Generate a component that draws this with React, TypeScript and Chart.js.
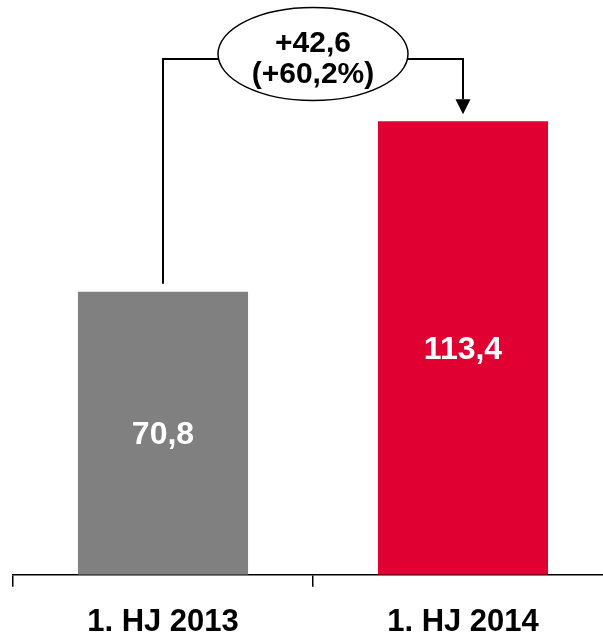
import React, { useEffect, useRef } from "react";
import { Chart, registerables } from "chart.js";

Chart.register(...registerables);

const categories = ["1. HJ 2013", "1. HJ 2014"];
const values = [70.8, 113.4];
const valueLabels = ["70,8", "113,4"];
const deltaLabels = ["+42,6", "(+60,2%)"];
const barColors = ["#808080", "#E10032"];
const bracketLevel = 129; // level of the connector line, in data units
const yMax = 140;

const FONT = "'Liberation Sans', Arial, Helvetica, sans-serif";

const annotationPlugin = {
  id: "deltaAnnotation",
  afterDatasetsDraw(chart: any) {
    const ctx: CanvasRenderingContext2D = chart.ctx;
    const meta = chart.getDatasetMeta(0);
    const yScale = chart.scales.y;

    // value labels inside bars
    meta.data.forEach((bar: any, i: number) => {
      const p = bar.getProps(["x", "y", "base"], true);
      ctx.save();
      ctx.fillStyle = "#ffffff";
      ctx.font = `bold 32px ${FONT}`;
      ctx.textAlign = "center";
      ctx.textBaseline = "middle";
      ctx.fillText(valueLabels[i], p.x, (p.y + p.base) / 2 + 2);
      ctx.restore();
    });

    const b0 = meta.data[0].getProps(["x", "y"], true);
    const b1 = meta.data[1].getProps(["x", "y"], true);
    const ly = yScale.getPixelForValue(bracketLevel);

    ctx.save();
    ctx.strokeStyle = "#000";
    ctx.lineWidth = 2;
    ctx.beginPath();
    ctx.moveTo(b0.x, b0.y - 8);
    ctx.lineTo(b0.x, ly);
    ctx.lineTo(b1.x, ly);
    ctx.lineTo(b1.x, b1.y - 22);
    ctx.stroke();

    // arrow head
    ctx.fillStyle = "#000";
    ctx.beginPath();
    ctx.moveTo(b1.x - 7.5, b1.y - 22);
    ctx.lineTo(b1.x + 7.5, b1.y - 22);
    ctx.lineTo(b1.x, b1.y - 7);
    ctx.closePath();
    ctx.fill();

    // ellipse
    const cx = (b0.x + b1.x) / 2;
    ctx.beginPath();
    ctx.ellipse(cx, ly - 5, 95, 46.5, 0, 0, Math.PI * 2);
    ctx.fillStyle = "#fff";
    ctx.fill();
    ctx.lineWidth = 1.5;
    ctx.stroke();

    ctx.fillStyle = "#000";
    ctx.font = `bold 30px ${FONT}`;
    ctx.textAlign = "center";
    ctx.textBaseline = "middle";
    ctx.fillText(deltaLabels[0], cx, ly - 15);
    ctx.fillText(deltaLabels[1], cx, ly + 16);
    ctx.restore();
  },
};

export default function App() {
  const ref = useRef<HTMLCanvasElement | null>(null);

  useEffect(() => {
    document.body.style.margin = "0";
    if (!ref.current) return;
    const chart = new Chart(ref.current, {
      type: "bar",
      data: {
        labels: categories,
        datasets: [
          {
            data: values,
            backgroundColor: barColors,
            borderWidth: 0,
            barPercentage: 0.567,
            categoryPercentage: 1,
          },
        ],
      },
      options: {
        responsive: false,
        animation: false,
        devicePixelRatio: 1,
        layout: { padding: { left: 13, right: 10, top: 15, bottom: 19 } },
        plugins: {
          legend: { display: false },
          tooltip: { enabled: false },
        },
        scales: {
          x: {
            grid: {
              offset: true,
              drawOnChartArea: false,
              drawTicks: true,
              tickLength: 12,
              color: "#000",
              lineWidth: 1.5,
            },
            border: { display: true, color: "#000", width: 1.5 },
            ticks: {
              color: "#000",
              padding: 17,
              font: { family: FONT, size: 31, weight: "bold" },
            },
          },
          y: { display: false, min: 0, max: yMax },
        },
      },
      plugins: [annotationPlugin],
    });
    return () => chart.destroy();
  }, []);

  return (
    <div
      style={{
        position: "absolute",
        left: 0,
        top: 0,
        width: 603,
        height: 637,
        overflow: "hidden",
        background: "#fff",
      }}
    >
      <canvas ref={ref} width={623} height={677} style={{ display: "block" }} />
    </div>
  );
}
